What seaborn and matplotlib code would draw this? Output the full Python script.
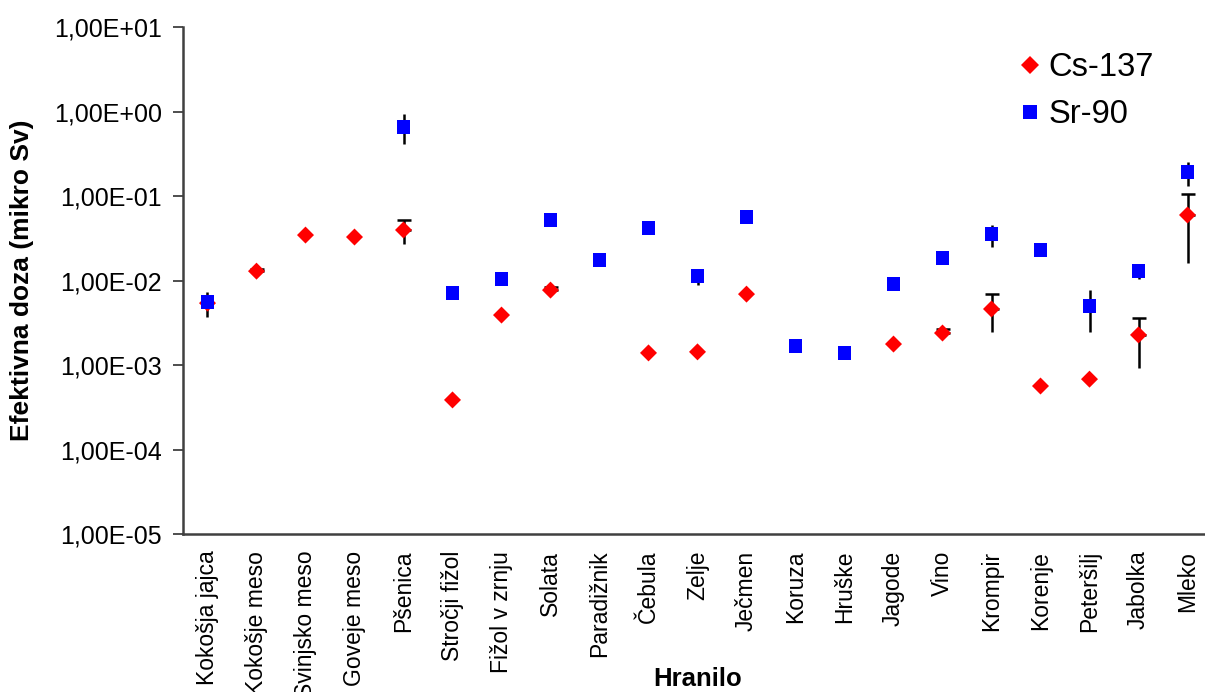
import numpy as np
import pandas as pd
import matplotlib
matplotlib.use("Agg")
import matplotlib.pyplot as plt
import seaborn as sns
from matplotlib.ticker import FuncFormatter, LogLocator, NullLocator, FixedLocator

nan = np.nan

hranila = ["Kokošja jajca", "Kokošje meso", "Svinjsko meso", "Goveje meso", "Pšenica",
           "Stročji fižol", "Fižol v zrnju", "Solata", "Paradižnik", "Čebula", "Zelje",
           "Ječmen", "Koruza", "Hruške", "Jagode", "Vino", "Krompir", "Korenje",
           "Peteršilj", "Jabolka", "Mleko"]

# efektivna doza (mikro Sv)
cs137 = [5.4e-3, 1.29e-2, 3.45e-2, 3.27e-2, 3.96e-2, 3.86e-4, 3.9e-3, 7.7e-3, nan, 1.39e-3,
         1.43e-3, 6.9e-3, nan, nan, 1.77e-3, 2.39e-3, 4.6e-3, 5.64e-4, 6.8e-4, 2.27e-3, 5.96e-2]
sr90 = [5.6e-3, nan, nan, nan, 0.656, 7.1e-3, 1.04e-2, 5.2e-2, 1.75e-2, 4.18e-2,
        1.13e-2, 5.6e-2, 1.68e-3, 1.39e-3, 9.1e-3, 1.85e-2, 3.55e-2, 2.3e-2, 5.0e-3, 1.29e-2, 0.192]

# meje napak (spodnja / zgornja)
cs137_lo = [nan, nan, nan, nan, 2.7e-2, nan, nan, nan, nan, nan, nan,
            nan, nan, nan, nan, nan, 2.46e-3, nan, nan, 9.2e-4, 1.6e-2]
cs137_hi = [nan, 1.36e-2, nan, nan, 5.2e-2, nan, nan, 8.4e-3, nan, nan, nan,
            nan, nan, nan, nan, 2.67e-3, 6.9e-3, nan, nan, 3.6e-3, 0.106]
sr90_lo = [3.7e-3, nan, nan, nan, 0.41, nan, nan, nan, nan, nan, 8.9e-3,
           nan, nan, nan, nan, nan, 2.5e-2, nan, 2.46e-3, 1.04e-2, 0.131]
sr90_hi = [7.3e-3, nan, nan, nan, 0.93, nan, nan, nan, nan, nan, 1.37e-2,
           nan, nan, nan, nan, nan, 4.5e-2, nan, 7.7e-3, nan, 0.252]

rows = []
for i, h in enumerate(hranila):
    rows.append((i, h, "Cs-137", cs137[i]))
    rows.append((i, h, "Sr-90", sr90[i]))
df = pd.DataFrame(rows, columns=["poz", "hranilo", "nuklid", "doza"]).dropna()

sns.set_style("white")
plt.rcParams["font.family"] = ["Liberation Sans", "DejaVu Sans"]
plt.rcParams["text.color"] = "black"
plt.rcParams["axes.labelcolor"] = "black"
plt.rcParams["xtick.color"] = "black"
plt.rcParams["ytick.color"] = "black"

fig = plt.figure(figsize=(12.05, 6.92), dpi=100)
W, H = 1205, 692
ax = fig.add_axes([183 / W, 1 - 534 / H, (1212 - 183) / W, (534 - 27) / H])

sns.scatterplot(data=df, x="poz", y="doza", hue="nuklid", style="nuklid", size="nuklid",
                palette={"Cs-137": "#ff0000", "Sr-90": "#0000ff"},
                markers={"Cs-137": "D", "Sr-90": "s"},
                sizes={"Cs-137": 75, "Sr-90": 100},
                linewidth=0, zorder=3, ax=ax)


def bars(vals, lo, hi, cap):
    vals, lo, hi = np.array(vals), np.array(lo), np.array(hi)
    x = np.arange(len(vals))
    m = ~np.isnan(hi)
    if m.any():
        ax.errorbar(x[m], vals[m], yerr=[np.zeros(m.sum()), hi[m] - vals[m]], fmt="none",
                    ecolor="black", elinewidth=1.8, capsize=cap, capthick=1.8, zorder=2)
    m = ~np.isnan(lo)
    if m.any():
        ax.errorbar(x[m], vals[m], yerr=[vals[m] - lo[m], np.zeros(m.sum())], fmt="none",
                    ecolor="black", elinewidth=1.8, capsize=0, zorder=2)


bars(cs137, cs137_lo, cs137_hi, 5)
bars(sr90, sr90_lo, sr90_hi, 0)

ax.set_yscale("log")
ax.set_ylim(1e-5, 10)
ax.yaxis.set_major_locator(LogLocator(base=10, numticks=12))
ax.yaxis.set_minor_locator(NullLocator())
ax.yaxis.set_major_formatter(FuncFormatter(lambda v, p: f"{v:.2E}".replace(".", ",")))

ax.set_xlim(-0.5, len(hranila) - 0.5)
ax.xaxis.set_major_locator(FixedLocator(range(len(hranila))))
ax.set_xticklabels(hranila, rotation=90, fontsize=16.5)
ax.xaxis.set_minor_locator(FixedLocator(np.arange(-0.5, len(hranila), 1)))
ax.tick_params(axis="x", which="major", length=0, pad=12)
ax.tick_params(axis="x", which="minor", length=8, width=1.3, color="#404040")
ax.tick_params(axis="y", which="major", length=7, width=1.3, color="#404040",
               labelsize=18, pad=8, left=True)

for s in ["top", "right"]:
    ax.spines[s].set_visible(False)
for s in ["left", "bottom"]:
    ax.spines[s].set_color("#404040")
    ax.spines[s].set_linewidth(1.8)

ax.set_ylabel("Efektivna doza (mikro Sv)", fontsize=19, fontweight="bold")
ax.yaxis.set_label_coords((34 - 183) / 1029, 0.5)
ax.set_xlabel("Hranilo", fontsize=18.5, fontweight="bold")
ax.xaxis.set_label_coords(0.5, -(667 - 534) / 507)

handles, labels = ax.get_legend_handles_labels()
ax.legend(handles, labels, loc="upper left", bbox_to_anchor=(1020 / W, 1 - 52 / H),
          bbox_transform=fig.transFigure, frameon=False, fontsize=23.5,
          handlelength=0.6, handletextpad=0.28, labelspacing=0.5,
          borderpad=0, borderaxespad=0)

fig.savefig("out.png", dpi=100)
